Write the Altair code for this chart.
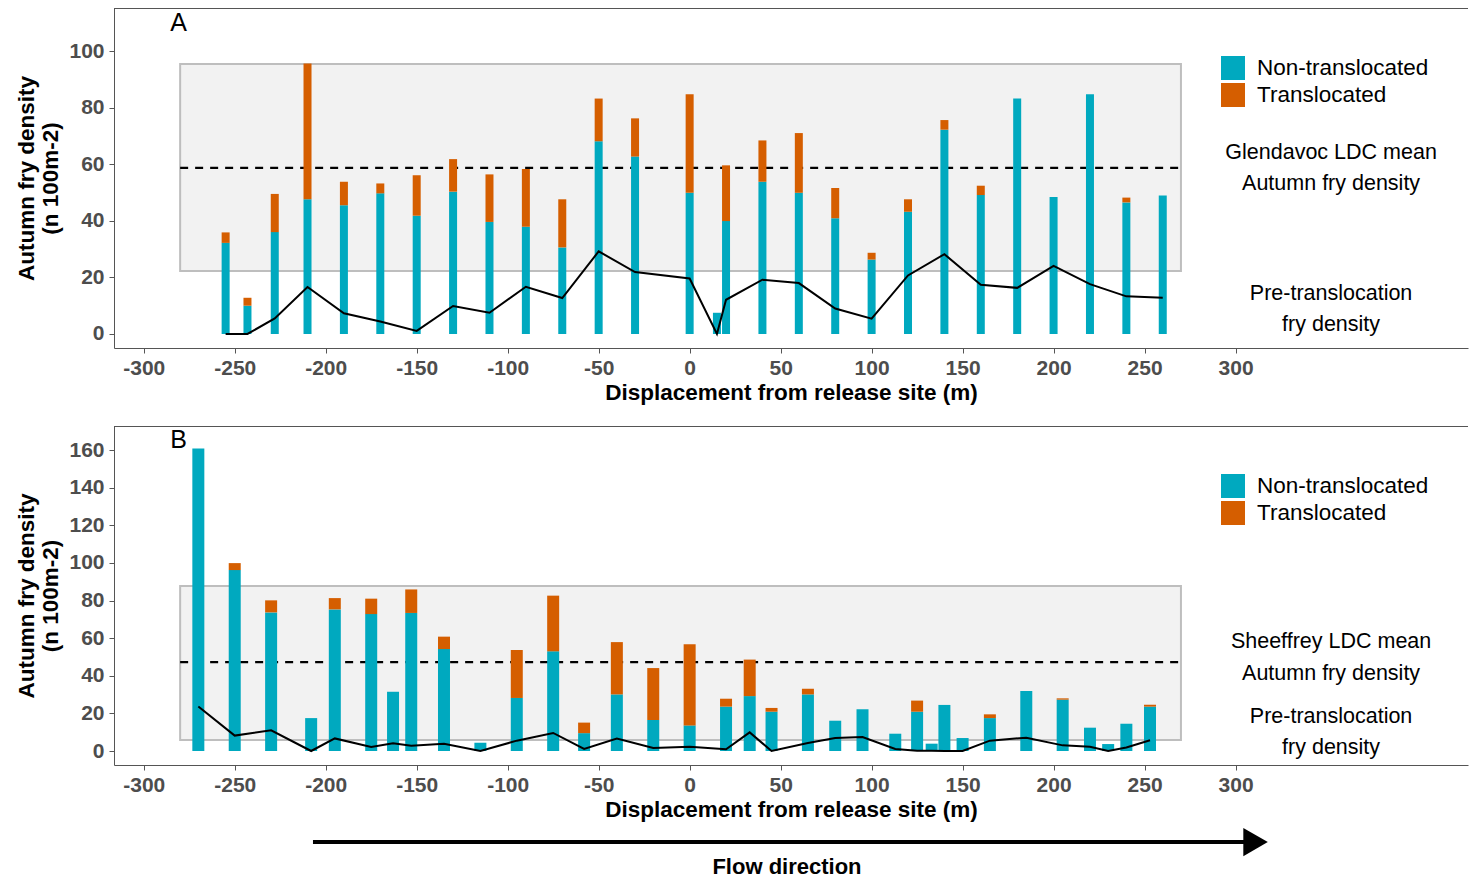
import altair as alt
import pandas as pd

# ---------------- data ----------------
GROUPS = ["Non-translocated", "Translocated"]
TEAL = "#00A9BF"
ORANGE = "#D55E00"

X_TICKS = [-300, -250, -200, -150, -100, -50, 0, 50, 100, 150, 200, 250, 300]

# Panel A (Glendavoc)
A_x = [-255, -243, -228, -210, -190, -170, -150, -130, -110, -90, -70, -50, -30, 0, 15,
       20, 40, 60, 80, 100, 120, 140, 160, 180, 200, 220, 240, 260]
A_non = [32.2, 10.0, 36.0, 47.6, 45.5, 49.7, 41.8, 50.3, 39.6, 37.9, 30.6, 68.1, 62.7, 49.9, 7.5,
         39.9, 53.8, 49.9, 40.9, 26.3, 43.2, 72.2, 49.1, 83.2, 48.4, 84.7, 46.5, 48.9]
A_trans = [3.7, 2.8, 13.5, 48.0, 8.3, 3.5, 14.3, 11.5, 16.8, 20.4, 17.0, 15.1, 13.5, 34.8, 0.0,
           19.7, 14.6, 21.1, 10.7, 2.4, 4.4, 3.4, 3.3, 0.0, 0.0, 0.0, 1.7, 0.0]
A_pre = [0.0, 0.0, 5.5, 16.6, 7.3, 4.4, 1.1, 9.9, 7.5, 16.7, 12.7, 29.2, 21.9, 19.6, 0.0,
         12.1, 19.2, 18.0, 9.0, 5.4, 20.7, 28.2, 17.4, 16.3, 24.1, 17.6, 13.3, 12.8]
A_band = [22.3, 95.4]
A_mean = 58.7
A_yticks = [0, 20, 40, 60, 80, 100]
A_ydom = [-4.95, 115.2]

# Panel B (Sheeffrey)
B_x = [-270, -250, -230, -208, -195, -175, -163, -153, -135, -115, -95, -75, -58, -40, -20, 0,
       20, 33, 45, 65, 80, 95, 113, 125, 133, 140, 150, 165, 185, 205, 220, 230, 240, 253]
B_non = [160.9, 96.2, 73.7, 17.5, 75.3, 72.8, 31.5, 73.4, 54.2, 4.4, 28.2, 53.0, 9.5, 30.1, 16.5, 13.6,
         23.6, 29.2, 20.9, 30.1, 16.1, 22.2, 9.2, 20.9, 3.9, 24.5, 6.9, 17.5, 31.9, 27.3, 12.4, 3.7, 14.5, 23.6]
B_trans = [0.0, 3.7, 6.4, 0.0, 6.0, 8.2, 0.0, 12.5, 6.6, 0.0, 25.5, 29.6, 5.6, 27.8, 27.6, 43.1,
           4.2, 19.4, 2.0, 3.0, 0.0, 0.0, 0.0, 5.9, 0.0, 0.0, 0.0, 2.0, 0.0, 0.7, 0.0, 0.0, 0.0, 1.0]
B_pre = [23.7, 8.2, 11.0, 0.0, 6.7, 2.1, 4.1, 2.8, 3.9, 0.0, 5.5, 9.6, 1.1, 6.6, 1.6, 2.3,
         0.9, 9.9, 0.0, 4.3, 6.9, 7.4, 1.1, 0.2, 0.2, 0.0, 0.0, 5.5, 7.1, 3.0, 2.3, 0.0, 1.9, 5.7]
B_band = [5.8, 87.7]
B_mean = 47.3
B_yticks = [0, 20, 40, 60, 80, 100, 120, 140, 160]
B_ydom = [-7.44, 172.8]

BAND_X = [-280, 270]
X_DOM = [-313.6, 425.0]

A_notes = ["Glendavoc LDC mean", "Autumn fry density", "Pre-translocation", "fry density"]
A_notes_y = [64.0, 53.0, 14.1, 3.2]
B_notes = ["Sheeffrey LDC mean", "Autumn fry density", "Pre-translocation", "fry density"]
B_notes_y = [57.9, 40.9, 18.1, 1.6]
NOTES_X = 352.5

FLOW_X = [-207, 305]
FLOW_HEAD_X = 311
FLOW_Y = -48.4
FLOW_TEXT_X = 53.5
FLOW_TEXT_Y = -61.8

W = 1354
H_A = 340
H_B = 339
FONT = "Liberation Sans"
LABEL_EXPR = "datum.value < 0 ? '-' + abs(datum.value) : '' + datum.value"


def panel(xs, non, trans, pre, band, mean, ydom, yticks, bar_w, letter, letter_y,
          notes, notes_y, height, flow=False):
    rows = []
    for x, n, t in zip(xs, non, trans):
        rows.append({"x": x, "group": GROUPS[0], "value": n, "ord": 0})
        if t > 0:
            rows.append({"x": x, "group": GROUPS[1], "value": t, "ord": 1})
    bars_df = pd.DataFrame(rows)
    pre_df = pd.DataFrame({"x": xs, "pre": pre})

    xsc = alt.Scale(domain=X_DOM, nice=False, zero=False)
    ysc = alt.Scale(domain=ydom, nice=False, zero=False)
    xax = alt.Axis(values=X_TICKS, grid=False, tickSize=5, labelPadding=4, titlePadding=3,
                   labelFontSize=21, labelFontWeight="bold", labelColor="#4D4D4D",
                   labelFont=FONT, titleFont=FONT, titleFontSize=22.5, titleFontWeight="bold",
                   titleColor="black", domainColor="#555555", tickColor="#555555",
                   labelOverlap=False, labelExpr=LABEL_EXPR)
    yax = alt.Axis(values=yticks, grid=False, tickSize=5, labelPadding=5, titlePadding=5,
                   labelFontSize=21, labelFontWeight="bold", labelColor="#4D4D4D",
                   labelFont=FONT, titleFont=FONT, titleFontSize=22.5, titleFontWeight="bold",
                   titleColor="black", domainColor="#555555", tickColor="#555555",
                   titleLineHeight=24, labelOverlap=False, minExtent=47)
    xt = "Displacement from release site (m)"
    yt = ["Autumn fry density", "(n 100m-2)"]

    def X(f):
        return alt.X(f, type="quantitative", scale=xsc, axis=xax, title=xt)

    def Y(f, **kw):
        return alt.Y(f, type="quantitative", scale=ysc, axis=yax, title=yt, **kw)

    band_df = pd.DataFrame({"x1": [BAND_X[0]], "x2": [BAND_X[1]], "y1": [band[0]], "y2": [band[1]]})
    rect = alt.Chart(band_df).mark_rect(fill="#F2F2F2", stroke="#BEBEBE", strokeWidth=2).encode(
        x=X("x1"), x2="x2", y=Y("y1"), y2="y2")

    mean_df = pd.DataFrame({"x1": [BAND_X[0]], "x2": [BAND_X[1]], "y": [mean]})
    dash = alt.Chart(mean_df).mark_rule(color="black", strokeDash=[8, 7], strokeWidth=2.2).encode(
        x=X("x1"), x2="x2", y=Y("y"))

    bars = alt.Chart(bars_df).mark_bar(size=bar_w).encode(
        x=X("x"),
        y=Y("value", stack="zero"),
        color=alt.Color("group:N", scale=alt.Scale(domain=GROUPS, range=[TEAL, ORANGE]),
                        legend=alt.Legend(orient="none", legendX=1107, legendY=48, title=None,
                                          symbolType="square", symbolSize=576, symbolStrokeWidth=0,
                                          labelFontSize=22.5, labelFont=FONT, labelColor="black",
                                          labelLimit=400, rowPadding=3, labelOffset=12, padding=0)),
        order=alt.Order("ord:Q", sort="ascending"))

    line = alt.Chart(pre_df).mark_line(color="black", strokeWidth=2).encode(x=X("x"), y=Y("pre"))

    notes_df = pd.DataFrame({"x": [NOTES_X] * len(notes), "y": notes_y, "t": notes})
    txt = alt.Chart(notes_df).mark_text(font=FONT, fontSize=21.5, color="black",
                                        align="center", baseline="middle").encode(
        x=X("x"), y=Y("y"), text="t:N")

    let_df = pd.DataFrame({"x": [-285.5], "y": [letter_y], "t": [letter]})
    let = alt.Chart(let_df).mark_text(font=FONT, fontSize=25, color="black",
                                      align="left", baseline="middle").encode(
        x=X("x"), y=Y("y"), text="t:N")

    frame = alt.Chart(band_df).mark_rule(color="#555555", strokeWidth=1).encode(
        x=alt.value(0), x2=alt.value(W), y=alt.value(0.5))

    layers = [rect, dash, bars, line, txt, let, frame]

    if flow:
        fl_df = pd.DataFrame({"x1": [FLOW_X[0]], "x2": [FLOW_X[1]], "y": [FLOW_Y]})
        arrow = alt.Chart(fl_df).mark_rule(color="black", strokeWidth=4).encode(
            x=X("x1"), x2="x2", y=Y("y"))
        head_df = pd.DataFrame({"x": [FLOW_HEAD_X], "y": [FLOW_Y]})
        head = alt.Chart(head_df).mark_point(shape="triangle-right", filled=True, size=800,
                                             color="black", opacity=1).encode(x=X("x"), y=Y("y"))
        ft_df = pd.DataFrame({"x": [FLOW_TEXT_X], "y": [FLOW_TEXT_Y], "t": ["Flow direction"]})
        ftxt = alt.Chart(ft_df).mark_text(font=FONT, fontSize=22, fontWeight="bold", color="black",
                                          align="center", baseline="middle").encode(
            x=X("x"), y=Y("y"), text="t:N")
        layers += [arrow, head, ftxt]

    return alt.layer(*layers).properties(width=W, height=height)


pA = panel(A_x, A_non, A_trans, A_pre, A_band, A_mean, A_ydom, A_yticks, 8, "A", 109.9,
           A_notes, A_notes_y, H_A)
pB = panel(B_x, B_non, B_trans, B_pre, B_band, B_mean, B_ydom, B_yticks, 12, "B", 165.3,
           B_notes, B_notes_y, H_B, flow=True)

chart = alt.vconcat(pA, pB, spacing=22).resolve_scale(
    x="independent", y="independent", color="independent"
).resolve_legend(color="independent").properties(
    padding={"left": 15, "top": 8, "right": 0, "bottom": 0},
    background="white"
).configure_view(stroke=None)

chart.save("out.html", embed_options={"renderer": "svg", "actions": False})
